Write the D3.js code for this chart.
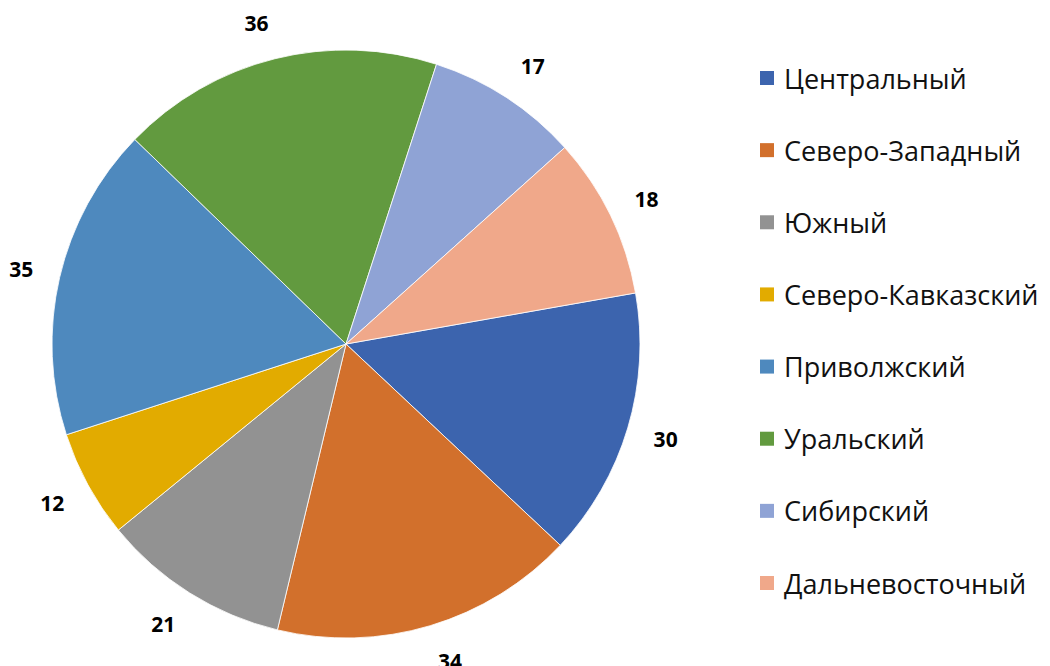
<!DOCTYPE html>
<html><head><meta charset="utf-8">
<script src="https://cdn.jsdelivr.net/npm/d3@7"></script>
<style>body{margin:0;background:#fff;} svg{display:block;}</style>
</head><body>
<svg id="c" width="1050" height="666"></svg>
<script>
const categories = ["Центральный","Северо-Западный","Южный","Северо-Кавказский","Приволжский","Уральский","Сибирский","Дальневосточный"];
const values = [30,34,21,12,35,36,17,18];
const colors = ["#3c64ae","#d2702c","#929292","#e2ab00","#4e89be","#629a3f","#8fa3d5","#f0a88a"];

const svg = d3.select("#c");
const cx = 346, cy = 344, R = 294;
const startDeg = 80;
const pie = d3.pie().sort(null).value(d => d)
  .startAngle(startDeg*Math.PI/180).endAngle((startDeg+360)*Math.PI/180);
const arcs = pie(values);
const arc = d3.arc().innerRadius(0).outerRadius(R);
const LR = 321;
const g = svg.append("g").attr("transform",`translate(${cx},${cy})`);
g.selectAll("path").data(arcs).join("path")
  .attr("d",arc).attr("fill",(d,i)=>colors[i])
  .attr("stroke","#ffffff").attr("stroke-width",0.8);
function labelPos(d){
  const a = (d.startAngle + d.endAngle)/2;
  const s = Math.sin(a), c = Math.cos(a);
  return [LR*s + 12*Math.sign(s), -LR*c - 10*c];
}
g.selectAll("text").data(arcs).join("text")
  .attr("transform",d=>`translate(${labelPos(d)})`)
  .attr("text-anchor","middle").attr("dominant-baseline","central")
  .attr("font-family","Open Sans, sans-serif").attr("font-weight","bold")
  .attr("font-size",21).attr("fill","#000")
  .text(d=>d.data);

const leg = svg.append("g");
const rowY = d3.scalePoint().domain(categories).range([78,583]);
categories.forEach((c,i)=>{
  const y = rowY(c);
  leg.append("rect").attr("x",760).attr("y",y-7).attr("width",14).attr("height",14).attr("fill",colors[i]);
  leg.append("text").attr("x",784).attr("y",y).attr("dominant-baseline","central")
    .attr("font-family","Open Sans, sans-serif").attr("font-size",27).attr("fill","#111")
    .text(c);
});
</script>
</body></html>
